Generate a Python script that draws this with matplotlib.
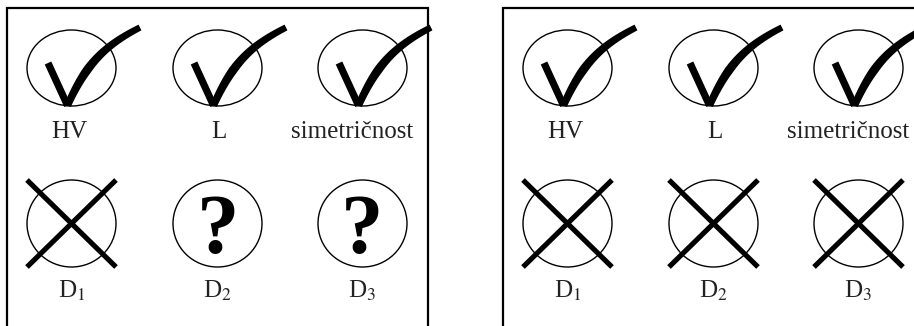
import numpy as np
import matplotlib
matplotlib.use("Agg")
import matplotlib.pyplot as plt
from matplotlib.patches import Ellipse, Polygon

plt.rcParams['mathtext.fontset'] = 'stix'

# oznake i ocjene za dva panela
oznake_gore = ["HV", "L", "simetričnost"]
oznake_dolje = ["D$_1$", "D$_2$", "D$_3$"]
ocjene_lijevo = ["da", "da", "da", "ne", "?", "?"]
ocjene_desno = ["da", "da", "da", "ne", "ne", "ne"]
paneli = [ocjene_lijevo, ocjene_desno]

# raspored (pikseli)
panel_x0 = [7, 503]
panel_sirina = 421
stupci_dx = [64.5, 210.5, 355.5]
oznaka_pomak = [-2.5, 1, -10]
red_y = [68, 223.5]
red_ry = [38, 43.5]
rx = 44.5
serif = "Liberation Serif"


def kvacica(ax, cx, cy):
    # lijevi krak
    a = np.array([-23.5, -5.0])
    b = np.array([-4.0, 37.5])
    d = (b - a) / np.linalg.norm(b - a)
    n = np.array([-d[1], d[0]]) * 3.6
    lijevi = [a + n, b + n, b - n, a - n]
    ax.add_patch(Polygon([(cx + p[0], cy + p[1]) for p in lijevi], closed=True, color="black", lw=0))
    # desni krak - zakrivljen i sužen (kubna bezierova krivulja)
    p0 = np.array([-4.0, 37.5])
    p1 = np.array([14.0, -3.0])
    p2 = np.array([32.0, -22.0])
    p3 = np.array([68.5, -40.5])
    t = np.linspace(0, 1, 50)[:, None]
    pts = (1 - t) ** 3 * p0 + 3 * (1 - t) ** 2 * t * p1 + 3 * (1 - t) * t ** 2 * p2 + t ** 3 * p3
    der = 3 * (1 - t) ** 2 * (p1 - p0) + 6 * (1 - t) * t * (p2 - p1) + 3 * t ** 2 * (p3 - p2)
    der = der / np.linalg.norm(der, axis=1)[:, None]
    nor = np.column_stack([-der[:, 1], der[:, 0]])
    tt = t[:, 0]
    hw = np.interp(tt, [0, 0.35, 1], [3.6, 4.4, 3.2])[:, None]
    gore = pts + nor * hw
    dolje = pts - nor * hw
    poly = np.vstack([gore, dolje[::-1]])
    poly[:, 0] += cx
    poly[:, 1] += cy
    ax.add_patch(Polygon(poly, closed=True, color="black", lw=0))


def krizic(ax, cx, cy, ry):
    for s in [1, -1]:
        ax.plot([cx - rx, cx + rx], [cy - s * ry, cy + s * ry], color="black",
                lw=3.7, solid_capstyle="butt")


fig = plt.figure(figsize=(9.14, 3.26), dpi=100)
ax = fig.add_axes([0, 0, 1, 1])
ax.set_xlim(0, 914)
ax.set_ylim(326, 0)
ax.axis("off")

for x0, ocjene in zip(panel_x0, paneli):
    # okvir (bez donjeg ruba)
    x1 = x0 + panel_sirina
    ax.plot([x0, x0, x1, x1], [326, 7.5, 7.5, 326], color="black", lw=1.6,
            solid_joinstyle="miter")
    for i, ocjena in enumerate(ocjene):
        red = i // 3
        st = i % 3
        cx = x0 + stupci_dx[st]
        cy = red_y[red]
        ax.add_patch(Ellipse((cx, cy), 2 * rx, 2 * red_ry[red], fill=False,
                             edgecolor="black", lw=1.0))
        if ocjena == "da":
            kvacica(ax, cx, cy)
        elif ocjena == "ne":
            krizic(ax, cx, cy, red_ry[red])
        else:
            ax.text(cx, cy + 30, "?", ha="center", va="baseline",
                    fontsize=61, fontweight="bold", family=serif)
        if red == 0:
            ax.text(cx + oznaka_pomak[st], 138, oznake_gore[st], ha="center",
                    va="baseline", fontsize=18, family=serif, color="#222222")
        else:
            ax.text(cx, 298, oznake_dolje[st], ha="center", va="baseline",
                    fontsize=18, family=serif, color="#222222")

fig.savefig("out.png", dpi=100)
